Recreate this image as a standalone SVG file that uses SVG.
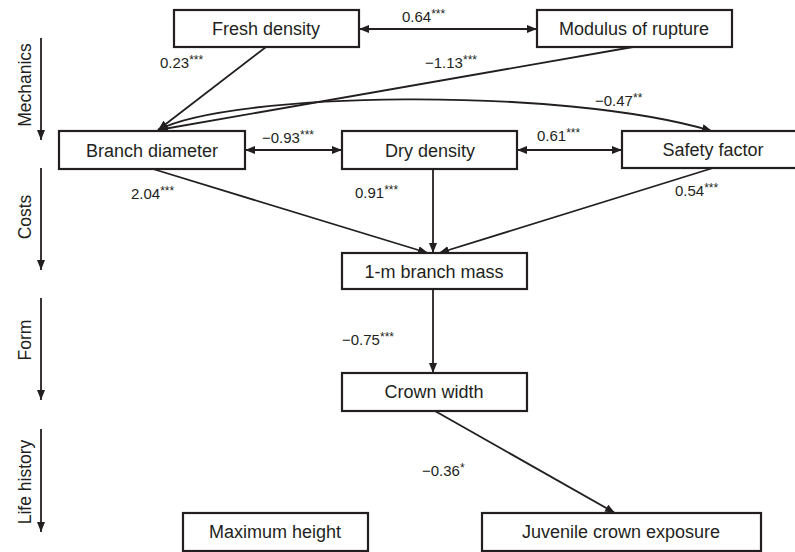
<svg xmlns="http://www.w3.org/2000/svg" width="795" height="552" viewBox="0 0 795 552">
<style>
  .box{fill:#fff;stroke:#231f20;stroke-width:2.2}
  .nt{font-family:"Liberation Sans",Arial,sans-serif;font-size:18px;fill:#231f20;text-anchor:middle}
  .lb{font-family:"Liberation Sans",Arial,sans-serif;font-size:15px;fill:#231f20}
  .st{font-size:12px;baseline-shift:30%}
  .ax{font-family:"Liberation Sans",Arial,sans-serif;font-size:17.5px;fill:#231f20;text-anchor:middle}
  .ln{fill:none;stroke:#231f20;stroke-width:1.8}
</style>
<defs>
  <marker id="ah" viewBox="0 0 10 8" refX="10" refY="4" markerWidth="10" markerHeight="8" markerUnits="userSpaceOnUse" orient="auto-start-reverse">
    <path d="M0,0 L10,4 L0,8 Z" fill="#231f20"/>
  </marker>
</defs>
<rect width="795" height="552" fill="#fff"/>

<g id="axes">
  <line class="ln" x1="41" y1="38" x2="41" y2="140" marker-end="url(#ah)"/>
  <line class="ln" x1="41" y1="168" x2="41" y2="270" marker-end="url(#ah)"/>
  <line class="ln" x1="41" y1="298" x2="41" y2="400" marker-end="url(#ah)"/>
  <line class="ln" x1="41" y1="429" x2="41" y2="532" marker-end="url(#ah)"/>
  <text class="ax" transform="translate(31,85) rotate(-90)">Mechanics</text>
  <text class="ax" transform="translate(31,217) rotate(-90)">Costs</text>
  <text class="ax" transform="translate(31,340) rotate(-90)">Form</text>
  <text class="ax" transform="translate(31,482) rotate(-90)">Life history</text>
</g>

<g id="connectors">
  <line class="ln" x1="359" y1="29" x2="537" y2="29" marker-start="url(#ah)" marker-end="url(#ah)"/>
  <line class="ln" x1="266" y1="47" x2="158" y2="130" marker-end="url(#ah)"/>
  <line class="ln" x1="633" y1="47" x2="158" y2="130" marker-end="url(#ah)"/>
  <path class="ln" d="M158,130 C230,92 560,86 712,131" marker-end="url(#ah)"/>
  <line class="ln" x1="245" y1="150" x2="342" y2="150" marker-start="url(#ah)" marker-end="url(#ah)"/>
  <line class="ln" x1="517" y1="150" x2="622" y2="150" marker-start="url(#ah)" marker-end="url(#ah)"/>
  <line class="ln" x1="153" y1="169" x2="428" y2="253" marker-end="url(#ah)"/>
  <line class="ln" x1="433" y1="169" x2="433" y2="253" marker-end="url(#ah)"/>
  <line class="ln" x1="713" y1="168" x2="439" y2="253" marker-end="url(#ah)"/>
  <line class="ln" x1="433" y1="289" x2="433" y2="373" marker-end="url(#ah)"/>
  <line class="ln" x1="435" y1="411" x2="615" y2="513" marker-end="url(#ah)"/>
  <text class="lb" x="402" y="22">0.64<tspan class="st">***</tspan></text>
  <text class="lb" x="160" y="68">0.23<tspan class="st">***</tspan></text>
  <text class="lb" x="425" y="68">−1.13<tspan class="st">***</tspan></text>
  <text class="lb" x="595" y="106">−0.47<tspan class="st">**</tspan></text>
  <text class="lb" x="262" y="143">−0.93<tspan class="st">***</tspan></text>
  <text class="lb" x="537" y="141">0.61<tspan class="st">***</tspan></text>
  <text class="lb" x="131" y="199">2.04<tspan class="st">***</tspan></text>
  <text class="lb" x="355" y="198">0.91<tspan class="st">***</tspan></text>
  <text class="lb" x="675" y="196">0.54<tspan class="st">***</tspan></text>
  <text class="lb" x="342" y="345">−0.75<tspan class="st">***</tspan></text>
  <text class="lb" x="422" y="476">−0.36<tspan class="st">*</tspan></text>
</g>

<g id="fresh-density"><rect class="box" x="174" y="10" width="185" height="37"/><text class="nt" x="266" y="35">Fresh density</text></g>
<g id="modulus-of-rupture"><rect class="box" x="537" y="10" width="195" height="37"/><text class="nt" x="634" y="35">Modulus of rupture</text></g>
<g id="branch-diameter"><rect class="box" x="59" y="131" width="186" height="38"/><text class="nt" x="152" y="157">Branch diameter</text></g>
<g id="dry-density"><rect class="box" x="342" y="131" width="175" height="38"/><text class="nt" x="430" y="157">Dry density</text></g>
<g id="safety-factor"><rect class="box" x="622" y="131" width="182" height="37"/><text class="nt" x="713" y="156">Safety factor</text></g>
<g id="branch-mass"><rect class="box" x="342" y="253" width="185" height="36"/><text class="nt" x="434" y="278">1-m branch mass</text></g>
<g id="crown-width"><rect class="box" x="342" y="373" width="185" height="38"/><text class="nt" x="434" y="398">Crown width</text></g>
<g id="maximum-height"><rect class="box" x="183" y="513" width="185" height="38"/><text class="nt" x="275" y="538">Maximum height</text></g>
<g id="juvenile-crown-exposure"><rect class="box" x="482" y="513" width="279" height="38"/><text class="nt" x="621" y="538">Juvenile crown exposure</text></g>
</svg>
